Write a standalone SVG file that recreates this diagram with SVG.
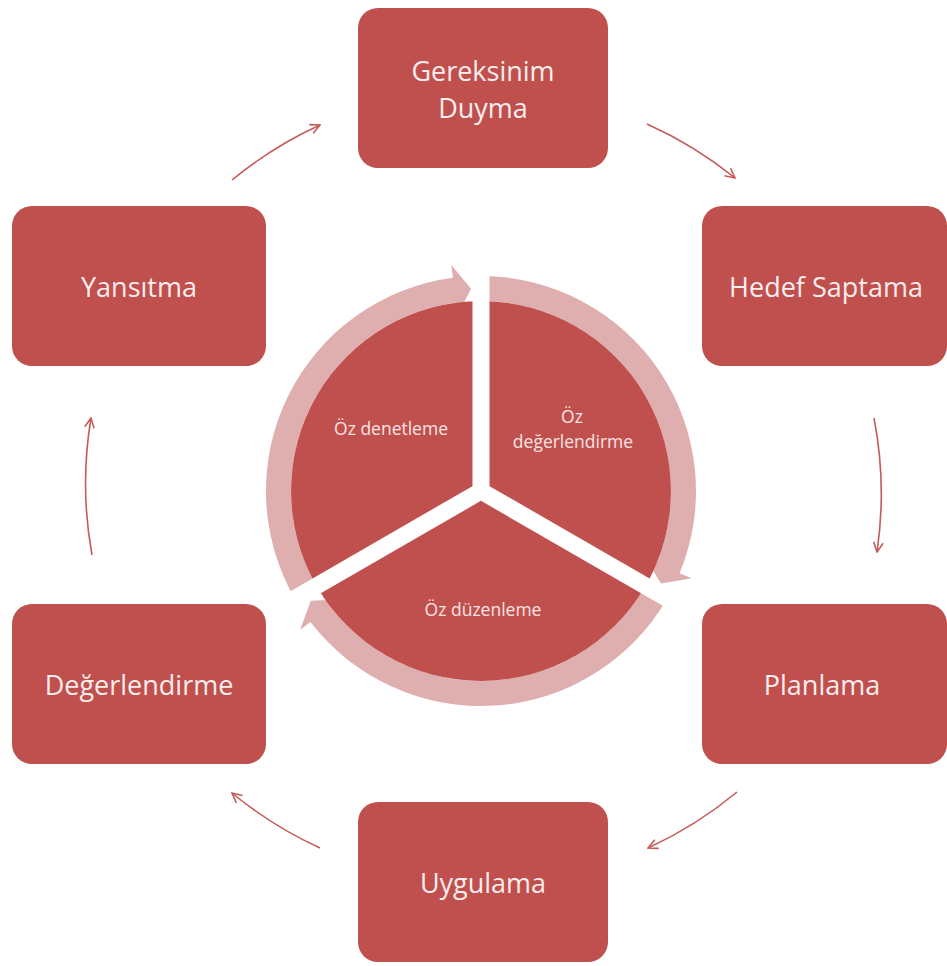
<svg xmlns="http://www.w3.org/2000/svg" width="947" height="966" viewBox="0 0 947 966">
  <defs>
    <style>
      .box { fill: #C0504D; }
      .boxtxt { font-family: "Open Sans", "Liberation Sans", sans-serif; font-size: 27px; fill: #FAEDED; text-anchor: middle; }
      .sector { fill: #C0504D; }
      .ring { fill: #DFAFAF; }
      .pietxt { font-family: "Open Sans", "Liberation Sans", sans-serif; font-size: 17.5px; fill: #F8E4E4; text-anchor: middle; }
      .conn { fill: none; stroke: #C65A58; stroke-width: 1.6; marker-end: url(#head); }
      .gap { stroke: #FFFFFF; stroke-width: 17; fill: none; }
    </style>
    <marker id="head" viewBox="0 0 10 10" refX="9" refY="5" markerWidth="12" markerHeight="12" markerUnits="userSpaceOnUse" orient="auto">
      <path d="M1,1 L9,5 L1,9" fill="none" stroke="#C65A58" stroke-width="1.3"/>
    </marker>
  </defs>
  <rect x="0" y="0" width="947" height="966" fill="#FFFFFF"/>

  <g id="connectors">
    <path class="conn" d="M647,124 A399,399 0 0 1 735,178"/>
    <path class="conn" d="M874,418 A399,399 0 0 1 877,552"/>
    <path class="conn" d="M737,792 A399,399 0 0 1 648,848"/>
    <path class="conn" d="M320,848 A399,399 0 0 1 232,793"/>
    <path class="conn" d="M92,555 A399,399 0 0 1 91,418"/>
    <path class="conn" d="M232,180 A399,399 0 0 1 320,125"/>
  </g>

  <g id="gereksinim-duyma">
    <rect class="box" x="358" y="8" width="250" height="160" rx="20"/>
    <text class="boxtxt" x="483" y="81">Gereksinim</text>
    <text class="boxtxt" x="483" y="118">Duyma</text>
  </g>
  <g id="hedef-saptama">
    <rect class="box" x="702" y="206" width="245" height="160" rx="20"/>
    <text class="boxtxt" x="826" y="297">Hedef Saptama</text>
  </g>
  <g id="planlama">
    <rect class="box" x="702" y="604" width="245" height="160" rx="20"/>
    <text class="boxtxt" x="822" y="695">Planlama</text>
  </g>
  <g id="uygulama">
    <rect class="box" x="358" y="802" width="250" height="160" rx="20"/>
    <text class="boxtxt" x="483" y="893">Uygulama</text>
  </g>
  <g id="degerlendirme">
    <rect class="box" x="12" y="604" width="254" height="160" rx="20"/>
    <text class="boxtxt" x="139" y="695">Değerlendirme</text>
  </g>
  <g id="yansitma">
    <rect class="box" x="12" y="206" width="254" height="160" rx="20"/>
    <text class="boxtxt" x="139" y="297">Yansıtma</text>
  </g>

  <g id="ring-arrows">
    <path class="ring" d="M294.8,598.5 A215,215 0 0 1 452.9,277.8 L451.2,265 L471.1,288.7 L457.8,314.5 L456.2,302.6 A190,190 0 0 0 316.5,586 Z"/>
    <path class="ring" d="M481,276 A215,215 0 0 1 679.6,573.3 L691.6,578.3 L661.1,583.6 L645.5,559.1 L656.5,563.7 A190,190 0 0 0 481,301 Z"/>
    <path class="ring" d="M667.2,598.5 A215,215 0 0 1 310.4,621.9 L300.1,629.8 L310.8,600.7 L339.8,599.4 L330.3,606.7 A190,190 0 0 0 645.5,586 Z"/>
  </g>

  <g id="oz-denetleme">
    <path class="sector" d="M481,491 L316.5,586 A190,190 0 0 1 481,301 Z"/>
  </g>
  <g id="oz-degerlendirme">
    <path class="sector" d="M481,491 L481,301 A190,190 0 0 1 645.5,586 Z"/>
  </g>
  <g id="oz-duzenleme">
    <path class="sector" d="M481,491 L645.5,586 A190,190 0 0 1 316.5,586 Z"/>
  </g>

  <g id="gaps">
    <path class="gap" d="M481,491 L481,250"/>
    <path class="gap" d="M481,491 L690,611.7"/>
    <path class="gap" d="M481,491 L272.3,611.5"/>
    <circle cx="481" cy="491" r="9" fill="#FFFFFF"/>
  </g>

  <g id="pie-labels">
    <text class="pietxt" x="391" y="435">Öz denetleme</text>
    <text class="pietxt" x="572" y="423">Öz</text>
    <text class="pietxt" x="573" y="448">değerlendirme</text>
    <text class="pietxt" x="483" y="616">Öz düzenleme</text>
  </g>
</svg>
